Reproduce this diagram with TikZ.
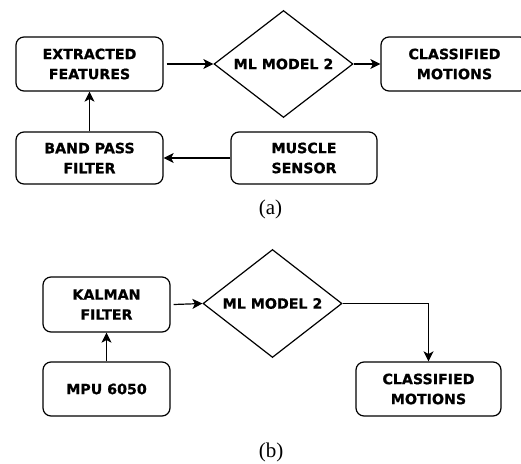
\documentclass[tikz,border=0pt]{standalone}
\usepackage{fontspec}
\setmainfont{Liberation Serif}
\newfontfamily\boxfont[BoldFeatures={FakeBold=0.8}]{DejaVu Sans}
\usetikzlibrary{shapes.geometric,arrows.meta}
\begin{document}
\begin{tikzpicture}[x=1pt,y=-1pt,
  blk/.style={draw, line width=1.2pt, rounded corners=8pt, inner sep=0pt, align=center,
    font=\boxfont\bfseries\fontsize{14.2}{20}\selectfont},
  dmd/.style={draw, line width=1.2pt, diamond, inner sep=0pt, aspect=1.3, align=center,
    minimum width=139pt, minimum height=107pt, font=\boxfont\bfseries\fontsize{14.2}{20}\selectfont},
  arr/.style={line width=1.2pt, -{Stealth[length=10pt,width=10pt,inset=2.5pt]}},
  captxt/.style={inner sep=0pt, font=\fontsize{21}{24}\selectfont}]
\useasboundingbox (0,0) rectangle (521,463);
% (a)
\node[blk, minimum width=147pt, minimum height=54pt] (ef) at (89.5,64) {EXTRACTED\\FEATURES};
\node[dmd] (m1) at (283.5,64) {ML MODEL 2};
\node[blk, minimum width=147pt, minimum height=54pt] (cm1) at (454.5,64) {CLASSIFIED\\MOTIONS};
\node[blk, minimum width=147pt, minimum height=52pt] (bpf) at (89.5,158) {BAND PASS\\FILTER};
\node[blk, minimum width=146pt, minimum height=52pt] (ms) at (304,158) {MUSCLE\\SENSOR};
\node[captxt] (ca) at (270.5,209) {(a)};
\draw[arr] ([xshift=3pt]ef.east) -- (m1.west);
\draw[arr] (m1.east) -- (cm1.west);
\draw[arr] (ms.west) -- (bpf.east);
\draw[arr] (bpf.north) -- (ef.south);
% (b)
\node[blk, minimum width=127pt, minimum height=55pt] (kf) at (106.5,304.5) {KALMAN\\FILTER};
\node[dmd, minimum height=108pt] (m2) at (272.5,303.5) {ML MODEL 2};
\node[blk, minimum width=127pt, minimum height=54pt] (mpu) at (106.5,389) {MPU 6050};
\node[blk, minimum width=145pt, minimum height=54pt] (cm2) at (428.5,389) {CLASSIFIED\\MOTIONS};
\node[captxt] (cb) at (271,452) {(b)};
\draw[arr] ([xshift=3pt]kf.east) -- (m2.west);
\draw[arr] (mpu.north) -- (kf.south);
\draw[arr] (m2.east) -| (cm2.north);
\end{tikzpicture}
\end{document}
